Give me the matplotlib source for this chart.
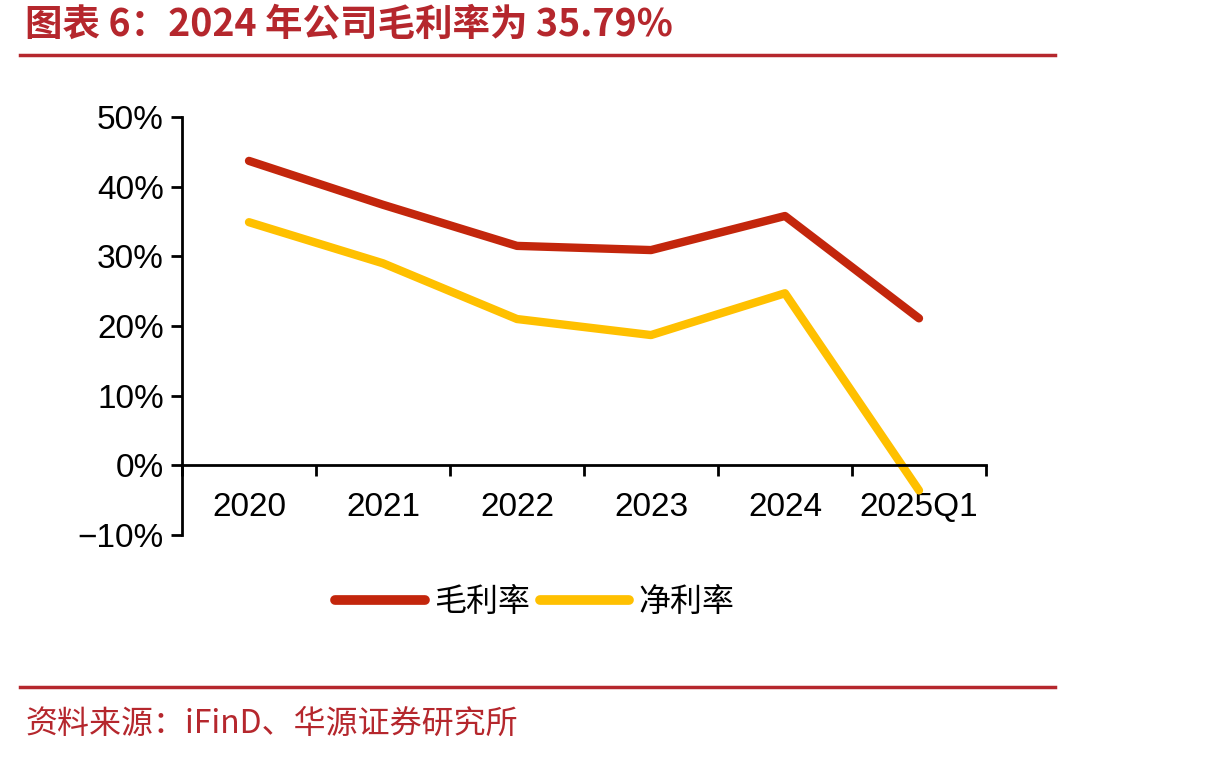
import matplotlib.pyplot as plt
from matplotlib.lines import Line2D
from matplotlib.ticker import FixedLocator, FuncFormatter

plt.rcParams['font.family'] = ['Liberation Sans', 'Noto Sans CJK SC', 'DejaVu Sans']

# data
categories = ["2020", "2021", "2022", "2023", "2024", "2025Q1"]
gross_margin = [43.7, 37.4, 31.5, 30.9, 35.79, 21.1]
net_margin = [34.9, 29.0, 21.0, 18.7, 24.7, -3.6]
series_names = ["毛利率", "净利率"]

title = "图表 6：2024 年公司毛利率为 35.79%"
source = "资料来源：iFinD、华源证券研究所"

RED = "#C3260C"
YELLOW = "#FFC000"
TITLE_RED = "#B5272D"

fig = plt.figure(figsize=(12.1, 7.6), dpi=100)
ax = fig.add_axes([182 / 1210, 1 - 535 / 760, 804 / 1210, 418 / 760])

x = list(range(len(categories)))
ax.plot(x, gross_margin, color=RED, lw=6, solid_capstyle="round", solid_joinstyle="round")
ax.plot(x, net_margin, color=YELLOW, lw=6, solid_capstyle="round", solid_joinstyle="round")

ax.set_xlim(-0.5, len(categories) - 0.5)
ax.set_ylim(-10, 50)
ax.set_yticks(range(-10, 51, 10))
ax.yaxis.set_major_formatter(FuncFormatter(lambda v, p: f"{v:.0f}%".replace("-", "\u2212")))

ax.spines["top"].set_visible(False)
ax.spines["right"].set_visible(False)
ax.spines["bottom"].set_position(("data", 0))
for s in ("left", "bottom"):
    ax.spines[s].set_linewidth(2)

# boundary ticks on the zero line, labels at category centres
ax.xaxis.set_major_locator(FixedLocator([i - 0.5 for i in range(len(categories) + 1)]))
ax.xaxis.set_major_formatter(FuncFormatter(lambda v, p: ""))
ax.xaxis.set_minor_locator(FixedLocator(x))
ax.set_xticklabels(categories, minor=True)
ax.tick_params(axis="x", which="major", direction="out", length=8, width=2)
ax.tick_params(axis="x", which="minor", length=0, pad=19, labelsize=24)
ax.tick_params(axis="y", direction="out", length=8, width=2, labelsize=24, pad=5)

handles = [Line2D([], [], color=RED, lw=7, solid_capstyle="round"),
           Line2D([], [], color=YELLOW, lw=7, solid_capstyle="round")]
fig.legend(handles, series_names, loc="center", bbox_to_anchor=(535 / 1210, 1 - 602 / 760),
           ncol=2, frameon=False, handlelength=2.8, handletextpad=0.3,
           columnspacing=0.3, prop={"family": ["Noto Sans CJK SC"], "size": 23})

# header / footer
fig.text(25 / 1210, 1 - 24 / 760, title, color=TITLE_RED, fontsize=27, fontweight="bold",
         va="center", ha="left", family=["Noto Sans CJK SC", "DejaVu Sans"])
fig.add_artist(Line2D([20 / 1210, 1055 / 1210], [1 - 55 / 760] * 2, color=TITLE_RED, lw=2.5))
fig.add_artist(Line2D([20 / 1210, 1055 / 1210], [1 - 687 / 760] * 2, color=TITLE_RED, lw=2.5))
fig.text(25 / 1210, 1 - 724 / 760, source, color=TITLE_RED, fontsize=23,
         va="center", ha="left", family=["Noto Sans CJK SC", "DejaVu Sans"])

fig.savefig("out.png", dpi=100)
